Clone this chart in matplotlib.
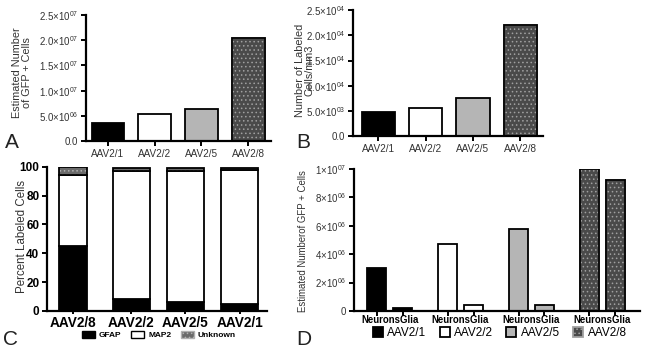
import numpy as np
import matplotlib
matplotlib.use('Agg')
import matplotlib.pyplot as plt
from matplotlib.patches import Patch

plt.rcParams['font.family'] = ['Liberation Sans', 'DejaVu Sans']
plt.rcParams['mathtext.fontset'] = 'custom'
plt.rcParams['mathtext.rm'] = 'Liberation Sans'
plt.rcParams['mathtext.it'] = 'Liberation Sans:italic'
plt.rcParams['hatch.linewidth'] = 0.6

# data
serotypes = ['AAV2/1', 'AAV2/2', 'AAV2/5', 'AAV2/8']
gfp_cells = [3.5e6, 5.3e6, 6.4e6, 2.05e7]            # panel A
cells_mm3 = [4.7e3, 5.6e3, 7.6e3, 2.2e4]             # panel B

c_order = ['AAV2/8', 'AAV2/2', 'AAV2/5', 'AAV2/1']   # panel C
gfap = [45, 8, 6, 5]
map2 = [49, 89, 91, 93]
unknown = [6, 2, 2, 1]

neurons = [3.05e6, 4.7e6, 5.8e6, 1.0e7]              # panel D
glia = [2.0e5, 4.5e5, 4.2e5, 9.2e6]

A_ticks = [0, 5e6, 1e7, 1.5e7, 2e7, 2.5e7]
A_labels = ['0.0', r'$5.0{\times}10^{06}$', r'$1.0{\times}10^{07}$', r'$1.5{\times}10^{07}$',
            r'$2.0{\times}10^{07}$', r'$2.5{\times}10^{07}$']
B_ticks = [0, 5e3, 1e4, 1.5e4, 2e4, 2.5e4]
B_labels = ['0.0', r'$5.0{\times}10^{03}$', r'$1.0{\times}10^{04}$', r'$1.5{\times}10^{04}$',
            r'$2.0{\times}10^{04}$', r'$2.5{\times}10^{04}$']
D_ticks = [0, 2e6, 4e6, 6e6, 8e6, 1e7]
D_labels = ['0', r'$2{\times}10^{06}$', r'$4{\times}10^{06}$', r'$6{\times}10^{06}$',
            r'$8{\times}10^{06}$', r'$1{\times}10^{07}$']

# fill styles per serotype: (face, hatch)
styles = {'AAV2/1': ('black', None), 'AAV2/2': ('white', None),
          'AAV2/5': ('#b5b5b5', None), 'AAV2/8': ('#4a4a4a', '....')}
grey_txt = '#333333'


def style_ax(ax):
    for s in ['top', 'right']:
        ax.spines[s].set_visible(False)
    for s in ['left', 'bottom']:
        ax.spines[s].set_linewidth(1.6)
    ax.tick_params(direction='out', width=1.4, length=3.5, colors='black', pad=2)


def draw_bar(ax, x, h, key, width, bottom=0):
    face, hatch = styles[key]
    b = ax.bar(x, h, width, bottom=bottom, color=face, edgecolor='black', linewidth=1.3,
               hatch=hatch, zorder=2)
    if hatch:
        for p in b:
            p.set_edgecolor('#a0a0a0')
        ax.bar(x, h, width, bottom=bottom, fill=False, edgecolor='black', linewidth=1.3, zorder=3)
    return b


fig = plt.figure(figsize=(6.45, 3.49), dpi=100)

# Panel A
axA = fig.add_axes([0.1333, 0.596, 0.287, 0.361])
x = np.arange(4)
for i, k in enumerate(serotypes):
    draw_bar(axA, x[i], gfp_cells[i], k, 0.7)
axA.set_xlim(-0.47, 3.49)
axA.set_ylim(0, 2.5e7)
style_ax(axA)
axA.set_yticks(A_ticks, A_labels, fontsize=7, color=grey_txt)
axA.set_xticks(x, serotypes, fontsize=7.2, color=grey_txt)
axA.set_ylabel('Estimated Number\nof GFP + Cells', fontsize=7.8, color=grey_txt, linespacing=1.0)
axA.yaxis.set_label_coords(-0.29, 0.54)

# Panel B
axB = fig.add_axes([0.547, 0.610, 0.295, 0.361])
for i, k in enumerate(serotypes):
    draw_bar(axB, x[i], cells_mm3[i], k, 0.7)
axB.set_xlim(-0.54, 3.48)
axB.set_ylim(0, 2.5e4)
style_ax(axB)
axB.set_yticks(B_ticks, B_labels, fontsize=7, color=grey_txt)
axB.set_xticks(x, serotypes, fontsize=7.2, color=grey_txt)
axB.set_ylabel('Number of Labeled\nCells/mm3', fontsize=7.8, color=grey_txt, linespacing=1.0)
axB.yaxis.set_label_coords(-0.2, 0.52)

# Panel C
axC = fig.add_axes([0.0729, 0.109, 0.341, 0.413])
lefts = np.arange(4)
widths = [0.52, 0.685, 0.685, 0.685]
centers = [l + w / 2 for l, w in zip(lefts, widths)]
axC.bar(lefts, gfap, widths, align='edge', color='black', edgecolor='black', linewidth=1.3, zorder=2)
axC.bar(lefts, map2, widths, bottom=gfap, align='edge', color='white', edgecolor='black',
        linewidth=1.3, zorder=2)
bot2 = [a + b for a, b in zip(gfap, map2)]
axC.bar(lefts, unknown, widths, bottom=bot2, align='edge', color='#6a6a6a', edgecolor='#b0b0b0',
        hatch='....', linewidth=0, zorder=2)
axC.bar(lefts, unknown, widths, bottom=bot2, align='edge', fill=False, edgecolor='black',
        linewidth=1.3, zorder=3)
axC.set_xlim(-0.22, 3.85)
axC.set_ylim(0, 100)
style_ax(axC)
axC.set_yticks([0, 20, 40, 60, 80, 100], ['0', '20', '40', '60', '80', '100'],
               fontsize=8.5, fontweight='bold')
axC.set_xticks(centers, c_order, fontsize=9.8, fontweight='bold')
axC.tick_params(axis='x', length=2.5, pad=1)
axC.set_ylabel('Percent Labeled Cells', fontsize=8.3, color=grey_txt)
axC.yaxis.set_label_coords(-0.086, 0.52)
handlesC = [Patch(facecolor='black', edgecolor='black', label='GFAP'),
            Patch(facecolor='white', edgecolor='black', label='MAP2'),
            Patch(facecolor='#6a6a6a', edgecolor='#b0b0b0', hatch='....', label='Unknown')]
axC.legend(handles=handlesC, loc='center', bbox_to_anchor=(0.51, -0.167), ncol=3,
           frameon=False, prop={'size': 6, 'weight': 'bold'}, handlelength=1.5, handleheight=1.0,
           columnspacing=1.2, handletextpad=0.5, borderpad=0, borderaxespad=0)

# Panel D
axD = fig.add_axes([0.549, 0.109, 0.443, 0.407])
gx = np.arange(4)
bw = 0.27
off = 0.366
for i, k in enumerate(serotypes):
    draw_bar(axD, gx[i], neurons[i], k, bw)
    draw_bar(axD, gx[i] + off, glia[i], k, bw)
axD.set_xlim(-0.317, 3.71)
axD.set_ylim(0, 1e7)
style_ax(axD)
axD.set_yticks(D_ticks, D_labels, fontsize=7, color=grey_txt)
axD.set_xticks(list(gx) + list(gx + off), [''] * 8)
axD.set_xticks(gx + off / 2, ['NeuronsGlia'] * 4, minor=True, fontsize=6.9, fontweight='bold')
axD.tick_params(axis='x', which='minor', length=0, pad=3)
axD.set_ylabel('Estimated Numberof GFP + Cells', fontsize=6.9, color=grey_txt)
axD.yaxis.set_label_coords(-0.16, 0.49)
handlesD = []
for k in serotypes:
    face, hatch = styles[k]
    handlesD.append(Patch(facecolor=face, edgecolor='#a0a0a0' if hatch else 'black', hatch=hatch,
                          linewidth=1.3, label=k))
axD.legend(handles=handlesD, loc='center', bbox_to_anchor=(0.51, -0.155), ncol=4,
           frameon=False, fontsize=8.5, handlelength=0.85, handleheight=0.85,
           columnspacing=1.1, handletextpad=0.4, borderpad=0, borderaxespad=0)

# panel letters
fig.text(0.008, 0.576, 'A', fontsize=15, color='#222222')
fig.text(0.460, 0.576, 'B', fontsize=15, color='#222222')
fig.text(0.005, 0.012, 'C', fontsize=15, color='#222222')
fig.text(0.460, 0.012, 'D', fontsize=15, color='#222222')

fig.savefig('out.png', dpi=100)
